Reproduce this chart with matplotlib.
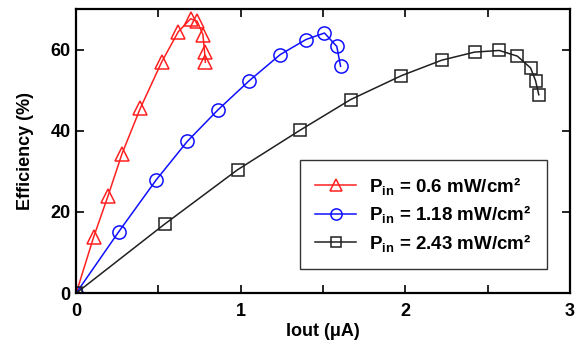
import matplotlib
matplotlib.use('Agg')
import matplotlib.pyplot as plt
from matplotlib.ticker import MultipleLocator

# Data
iout_06 = [0.0, 0.106, 0.193, 0.278, 0.39, 0.52, 0.62, 0.695, 0.735, 0.77, 0.78, 0.785]
eff_06 = [0.0, 13.8, 23.9, 34.3, 45.6, 57.0, 64.4, 67.6, 67.0, 63.7, 59.4, 56.9]

iout_118 = [0.0, 0.258, 0.486, 0.675, 0.862, 1.05, 1.24, 1.396, 1.508, 1.583, 1.606]
eff_118 = [0.0, 15.1, 27.9, 37.4, 45.2, 52.3, 58.8, 62.5, 64.1, 60.8, 55.9]

iout_243 = [0.0, 0.537, 0.98, 1.362, 1.667, 1.976, 2.22, 2.42, 2.57, 2.68, 2.76, 2.79, 2.81]
eff_243 = [0.0, 17.0, 30.4, 40.2, 47.7, 53.6, 57.4, 59.4, 59.8, 58.4, 55.5, 52.4, 48.9]

labels = [r'P$_{\mathrm{in}}$ = 0.6 mW/cm²',
          r'P$_{\mathrm{in}}$ = 1.18 mW/cm²',
          r'P$_{\mathrm{in}}$ = 2.43 mW/cm²']

font = 'Liberation Sans'
plt.rcParams['font.family'] = [font, 'DejaVu Sans']
plt.rcParams['font.weight'] = 'bold'
plt.rcParams['mathtext.fontset'] = 'custom'
plt.rcParams['mathtext.rm'] = font + ':bold'
plt.rcParams['mathtext.bf'] = font + ':bold'
plt.rcParams['mathtext.it'] = font + ':bold'

fig = plt.figure(figsize=(5.77, 3.49), dpi=100)
ax = fig.add_axes([0.132, 0.160, 0.856, 0.814])

ax.plot(iout_06, eff_06, color='#ff2020', lw=1.1, marker='^', ms=9.5,
        mfc='none', mew=1.1, label=labels[0])
ax.plot(iout_118, eff_118, color='#1010ff', lw=1.1, marker='o', ms=9.5,
        mfc='none', mew=1.1, label=labels[1])
ax.plot(iout_243, eff_243, color='#202020', lw=1.1, marker='s', ms=9,
        mfc='none', mew=1.1, label=labels[2])

ax.set_xlim(0, 3)
ax.set_ylim(0, 70)
ax.xaxis.set_major_locator(MultipleLocator(1))
ax.xaxis.set_minor_locator(MultipleLocator(0.5))
ax.yaxis.set_major_locator(MultipleLocator(20))
ax.tick_params(which='both', direction='in', top=True, right=True,
               width=1.2, labelsize=13)
ax.tick_params(axis='x', pad=7)
ax.tick_params(axis='y', pad=4)
ax.tick_params(which='major', length=6)
ax.tick_params(which='minor', length=6)
for s in ax.spines.values():
    s.set_linewidth(1.6)

ax.set_xlabel('Iout (\u03bcA)', fontsize=13, fontweight='bold', labelpad=2)
ax.set_ylabel('Efficiency (%)', fontsize=13, fontweight='bold', labelpad=12)

leg = ax.legend(loc='lower right', bbox_to_anchor=(0.953, 0.085), fontsize=13.5,
                frameon=True, fancybox=False, edgecolor='black',
                handlelength=2.2, markerscale=0.85, borderpad=0.8,
                labelspacing=0.35, handletextpad=0.7, borderaxespad=0)
leg.get_frame().set_linewidth(1.0)

fig.savefig('out.png', dpi=100)
